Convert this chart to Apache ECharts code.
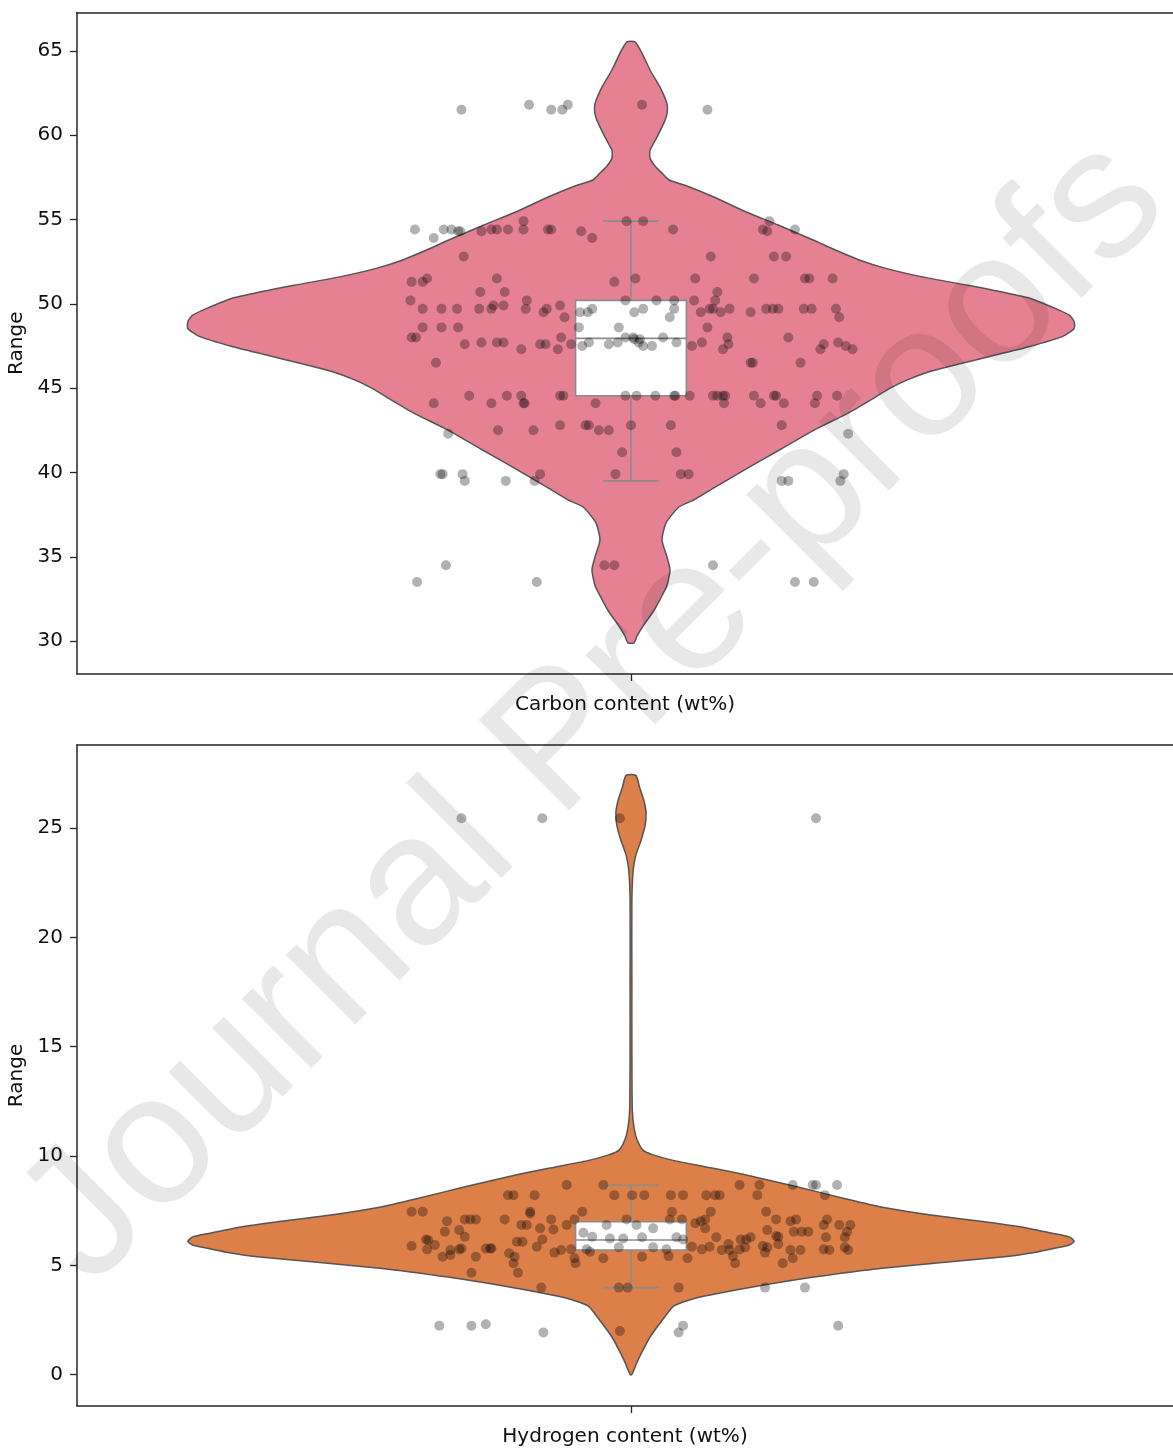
<!DOCTYPE html>
<html>
<head>
<meta charset="utf-8">
<script src="https://cdn.jsdelivr.net/npm/echarts@6/dist/echarts.min.js"></script>
<style>
  html, body { margin: 0; padding: 0; background: #fff; }
  #chart { width: 1173px; height: 1449px; }
</style>
</head>
<body>
<div id="chart"></div>
<script>
// ---- Carbon content (wt%) ----
// violin outline: value levels and relative density (1 = widest point)
const carbonProfileY = [65.53, 64.85, 63.86, 62.87, 61.88, 61.37, 60.89, 59.90, 59.11, 58.64, 58.17, 57.75,
  57.34, 57.00, 56.33, 55.44, 54.67, 53.78, 53.20, 52.60, 52.10, 51.58, 51.10, 50.82, 50.34, 49.73, 49.33,
  48.94, 48.54, 48.05, 47.45, 46.96, 46.47, 45.97, 45.50, 45.00, 44.41, 43.52, 42.51, 41.39, 40.27, 39.08,
  38.37, 37.95, 37.00, 36.00, 35.01, 34.22, 33.28, 32.45, 31.74, 30.97, 30.32, 29.90];
const carbonProfileW = [0.009, 0.025, 0.043, 0.065, 0.081, 0.082, 0.077, 0.059, 0.043, 0.043, 0.054, 0.070,
  0.086, 0.125, 0.187, 0.260, 0.332, 0.411, 0.460, 0.515, 0.575, 0.660, 0.760, 0.815, 0.898, 0.957, 0.989,
  1.000, 1.000, 0.973, 0.898, 0.822, 0.747, 0.673, 0.625, 0.585, 0.548, 0.490, 0.413, 0.339, 0.264, 0.187,
  0.142, 0.108, 0.079, 0.070, 0.081, 0.088, 0.081, 0.065, 0.050, 0.029, 0.014, 0.007];
// box statistics: lower whisker, Q1, median, Q3, upper whisker
const carbonBox = [39.5, 44.55, 47.95, 50.2, 54.9];
// observations grouped by value, with the horizontal jitter of each dot
const carbonLevels = [54.9, 54.4, 54.3, 53.9, 52.8, 51.5, 51.3, 50.7, 50.2, 49.9, 49.7, 49.5, 49.2, 48.6,
  48.0, 47.9, 47.7, 47.6, 47.5, 47.3, 46.5, 44.55, 44.1, 42.8, 42.5, 42.3, 41.2, 39.9, 39.5, 61.8, 61.5,
  34.5, 33.5];
const carbonJitter = [
  [-0.097, -0.004, 0.011, 0.125],
  [-0.195, -0.169, -0.162, -0.126, -0.121, -0.111, -0.097, -0.075, -0.072, 0.038, 0.119, 0.148],
  [-0.156, -0.154, -0.135, -0.045, 0.123],
  [-0.178, -0.035],
  [-0.151, 0.072, 0.129, 0.140],
  [-0.184, -0.121, 0.004, 0.058, 0.111, 0.157, 0.161, 0.182],
  [-0.198, -0.188, -0.015],
  [-0.136, -0.114, 0.078],
  [-0.199, -0.094, -0.005, 0.023, 0.039, 0.057, 0.076],
  [-0.124, -0.115, -0.064],
  [-0.188, -0.171, -0.157, -0.137, -0.126, -0.095, -0.076, -0.035, 0.011, 0.039, 0.071, 0.074, 0.089, 0.122,
    0.128, 0.133, 0.156, 0.163, 0.185],
  [-0.079, -0.046, -0.039, 0.003, 0.063, 0.081, 0.108],
  [-0.060, 0.035, 0.188],
  [-0.188, -0.171, -0.156, -0.047, -0.011, 0.069],
  [-0.198, -0.194, -0.063, -0.005, 0.002, 0.029, 0.087, 0.142],
  [0.003, 0.008],
  [-0.135, -0.121, -0.115, -0.038, -0.012, 0.007, 0.041, 0.064, 0.187],
  [-0.150, -0.082, -0.077, -0.054, -0.020, 0.088, 0.174],
  [-0.044, 0.011, 0.019, 0.055, 0.194],
  [-0.099, -0.066, 0.083, 0.171, 0.200],
  [-0.176, 0.108, 0.110, 0.153],
  [-0.146, -0.112, -0.099, -0.064, -0.061, -0.005, 0.005, 0.022, 0.039, 0.040, 0.053, 0.074, 0.078, 0.083,
    0.085, 0.111, 0.129, 0.131, 0.168, 0.186],
  [-0.178, -0.126, -0.097, -0.096, -0.032, 0.084, 0.117, 0.138, 0.166],
  [-0.064, -0.041, -0.038, 0.000, 0.036, 0.136],
  [-0.120, -0.088, -0.029, -0.020],
  [-0.165, 0.196],
  [-0.008, 0.041],
  [-0.172, -0.170, -0.152, -0.082, -0.014, 0.045, 0.052, 0.192],
  [-0.150, -0.113, -0.087, 0.136, 0.142, 0.189],
  [-0.092, -0.057, 0.010],
  [-0.153, -0.072, -0.062, 0.069],
  [-0.167, -0.024, -0.015, 0.074],
  [-0.193, -0.085, 0.148, 0.165]
];
const carbonTicks = [30, 35, 40, 45, 50, 55, 60, 65];

// ---- Hydrogen content (wt%) ----
const hydrogenProfileY = [27.41, 26.82, 26.27, 25.72, 25.13, 24.45, 23.76, 23.07, 21.70, 18.04, 14.84, 12.10,
  11.28, 10.73, 10.27, 10.05, 9.80, 9.50, 9.13, 8.60, 8.07, 7.67, 7.30, 6.98, 6.75, 6.47, 6.29, 6.09, 5.93,
  5.79, 5.60, 5.38, 4.87, 4.46, 3.96, 3.50, 3.14, 2.50, 1.72, 1.12, 0.58, 0.00];
const hydrogenProfileW = [0.011, 0.020, 0.029, 0.034, 0.032, 0.023, 0.011, 0.005, 0.002, 0.002, 0.002, 0.003,
  0.007, 0.014, 0.027, 0.050, 0.095, 0.170, 0.260, 0.372, 0.479, 0.564, 0.677, 0.801, 0.880, 0.950, 0.990,
  1.000, 0.989, 0.959, 0.914, 0.837, 0.567, 0.413, 0.262, 0.147, 0.097, 0.071, 0.043, 0.027, 0.014, 0.002];
const hydrogenBox = [3.98, 5.70, 6.16, 6.99, 8.67];
const hydrogenLevels = [25.45, 8.67, 8.21, 7.45, 7.37, 7.10, 7.02, 6.92, 6.84, 6.69, 6.64, 6.61, 6.54, 6.49,
  6.34, 6.31, 6.28, 6.23, 6.18, 6.15, 6.08, 5.97, 5.93, 5.88, 5.85, 5.82, 5.77, 5.73, 5.70, 5.62, 5.58,
  5.55, 5.47, 5.42, 5.39, 5.32, 5.09, 4.66, 3.98, 2.30, 2.24, 1.99, 1.93];
const hydrogenJitter = [
  [-0.153, -0.080, -0.010, 0.167],
  [-0.058, -0.025, 0.098, 0.116, 0.146, 0.164, 0.167, 0.186],
  [-0.111, -0.106, -0.087, -0.015, 0.001, 0.012, 0.036, 0.047, 0.068, 0.076, 0.080, 0.114, 0.175],
  [-0.198, -0.188, -0.091, -0.044, 0.037, 0.072, 0.122],
  [-0.091],
  [-0.150, -0.145, -0.140, -0.114, -0.072, -0.051, -0.004, 0.035, 0.046, 0.067, 0.131, 0.149, 0.177],
  [-0.166, 0.063, 0.144],
  [0.058],
  [-0.099, -0.094, -0.058, -0.022, 0.005, 0.174, 0.188, 0.198],
  [-0.082, 0.020, 0.067],
  [-0.070],
  [-0.155, 0.123],
  [-0.168, 0.147, 0.154, 0.160, 0.195],
  [-0.043],
  [0.131],
  [-0.150, -0.035, 0.133],
  [0.010, 0.041, 0.077, 0.108, 0.176, 0.193],
  [-0.019, -0.007],
  [-0.185, -0.080, 0.047, 0.099, 0.104],
  [-0.183],
  [-0.103, -0.098],
  [0.088, 0.133],
  [-0.177],
  [-0.198, 0.119],
  [-0.085, 0.055, 0.071],
  [-0.011, 0.020, 0.103, 0.123, 0.193],
  [-0.153, -0.131, -0.127, -0.126],
  [-0.184, -0.155, -0.054, -0.040, 0.032, 0.064, 0.098, 0.174],
  [-0.163, -0.063, 0.082, 0.089, 0.144, 0.153, 0.179, 0.196],
  [-0.037],
  [-0.069, 0.121],
  [-0.110],
  [-0.163],
  [0.034, 0.092],
  [-0.170, -0.140, -0.105, 0.010],
  [-0.051, -0.025, 0.051, 0.146],
  [-0.106, -0.050, 0.094, 0.137],
  [-0.144, -0.102],
  [-0.081, -0.011, -0.003, 0.043, 0.121, 0.157],
  [-0.131],
  [-0.173, -0.144, 0.047, 0.187],
  [-0.010],
  [-0.079, 0.043]
];
const hydrogenTicks = [0, 5, 10, 15, 20, 25];

// single category centred on 0; the frame is cut on the right, so the axis
// stops short of +0.5 while keeping one category unit = 1108 px
const X_MIN = -0.5;
const X_MAX = 0.4892;
const VIOLIN_HALF = 0.4;   // half of the violin width, in category units
const BOX_HALF = 0.05;     // half of the box width
const CAP_HALF = 0.025;    // half of the whisker cap width
const FONT = '"DejaVu Sans", sans-serif';
const FONT_SIZE = 20;
const AXIS_COLOR = '#262626';

function violinSeries(idx, ys, ws, fill) {
  return {
    type: 'custom', xAxisIndex: idx, yAxisIndex: idx, data: [[0, ys[0]]], silent: true, z: 1,
    renderItem: function (params, api) {
      const right = ys.map((v, i) => api.coord([ws[i] * VIOLIN_HALF, v]));
      const left = ys.map((v, i) => api.coord([-ws[i] * VIOLIN_HALF, v])).reverse();
      return {
        type: 'polygon',
        shape: { points: right.concat(left), smooth: 0.2 },
        style: { fill: fill, stroke: '#555555', lineWidth: 1.5 }
      };
    }
  };
}

function boxSeries(idx, stats) {
  return {
    type: 'custom', xAxisIndex: idx, yAxisIndex: idx, data: [[0, stats[2]]], silent: true, z: 2,
    renderItem: function (params, api) {
      const [lo, q1, med, q3, hi] = stats;
      const c = (x, y) => api.coord([x, y]);
      const line = (a, b) => ({
        type: 'line', shape: { x1: a[0], y1: a[1], x2: b[0], y2: b[1] },
        style: { stroke: '#8c8c8c', lineWidth: 1.6 }
      });
      const tl = c(-BOX_HALF, q3), br = c(BOX_HALF, q1);
      return {
        type: 'group',
        children: [
          line(c(0, q3), c(0, hi)),
          line(c(0, q1), c(0, lo)),
          line(c(-CAP_HALF, hi), c(CAP_HALF, hi)),
          line(c(-CAP_HALF, lo), c(CAP_HALF, lo)),
          {
            type: 'rect', shape: { x: tl[0], y: tl[1], width: br[0] - tl[0], height: br[1] - tl[1] },
            style: { fill: '#ffffff', stroke: '#8c8c8c', lineWidth: 1.6 }
          },
          line(c(-BOX_HALF, med), c(BOX_HALF, med))
        ]
      };
    }
  };
}

function stripSeries(idx, levels, jitter) {
  const pts = [];
  levels.forEach((v, i) => jitter[i].forEach(j => pts.push([j, v])));
  return {
    type: 'scatter', xAxisIndex: idx, yAxisIndex: idx, data: pts, symbolSize: 10, z: 3, silent: true,
    itemStyle: { color: '#000000', opacity: 0.3 }
  };
}

function xAxis(idx, name) {
  return {
    type: 'value', gridIndex: idx, min: X_MIN, max: X_MAX, position: 'bottom',
    axisLine: { show: true, onZero: false, lineStyle: { color: AXIS_COLOR, width: 1.5 } },
    axisTick: { show: true, customValues: [0], length: 7, lineStyle: { color: AXIS_COLOR, width: 1.3 } },
    axisLabel: { show: false },
    splitLine: { show: false },
    name: name, nameLocation: 'middle', nameGap: 21,
    nameTextStyle: { fontSize: FONT_SIZE, color: '#111', fontFamily: FONT }
  };
}

// top frame line of each panel
function topSpine(idx) {
  return {
    type: 'value', gridIndex: idx, min: X_MIN, max: X_MAX, position: 'top',
    axisLine: { show: true, onZero: false, lineStyle: { color: AXIS_COLOR, width: 1.5 } },
    axisTick: { show: false }, axisLabel: { show: false }, splitLine: { show: false }
  };
}

function yAxis(idx, min, max, ticks) {
  return {
    type: 'value', gridIndex: idx, min: min, max: max, position: 'left',
    axisLine: { show: true, onZero: false, lineStyle: { color: AXIS_COLOR, width: 1.5 } },
    axisTick: { show: true, customValues: ticks, length: 7, lineStyle: { color: AXIS_COLOR, width: 1.3 } },
    axisLabel: { customValues: ticks, margin: 14, fontSize: FONT_SIZE, color: '#111', fontFamily: FONT },
    splitLine: { show: false },
    name: 'Range', nameLocation: 'middle', nameGap: 46,
    nameTextStyle: { fontSize: FONT_SIZE, color: '#111', fontFamily: FONT }
  };
}

const chart = echarts.init(document.getElementById('chart'), null, { renderer: 'canvas' });
chart.setOption({
  animation: false,
  backgroundColor: '#ffffff',
  grid: [
    { left: 77, top: 12.5, right: 0, height: 661.5, containLabel: false, outerBoundsMode: 'none' },
    { left: 77, top: 745, right: 0, height: 661, containLabel: false, outerBoundsMode: 'none' }
  ],
  xAxis: [xAxis(0, 'Carbon content (wt%)'), xAxis(1, 'Hydrogen content (wt%)'), topSpine(0), topSpine(1)],
  yAxis: [yAxis(0, 28.05, 67.27, carbonTicks), yAxis(1, -1.436, 28.8, hydrogenTicks)],
  series: [
    violinSeries(0, carbonProfileY, carbonProfileW, '#E68193'),
    boxSeries(0, carbonBox),
    stripSeries(0, carbonLevels, carbonJitter),
    violinSeries(1, hydrogenProfileY, hydrogenProfileW, '#DC7F48'),
    boxSeries(1, hydrogenBox),
    stripSeries(1, hydrogenLevels, hydrogenJitter)
  ],
  graphic: [{
    type: 'text', x: 595, y: 712, rotation: Math.PI / 4, z: 100, silent: true,
    style: {
      text: 'Journal Pre-proofs', font: '186px "Liberation Sans", Arial, sans-serif',
      fill: 'rgba(0,0,0,0.09)', textAlign: 'center', textVerticalAlign: 'middle',
      align: 'center', verticalAlign: 'middle'
    }
  }]
});
</script>
</body>
</html>
